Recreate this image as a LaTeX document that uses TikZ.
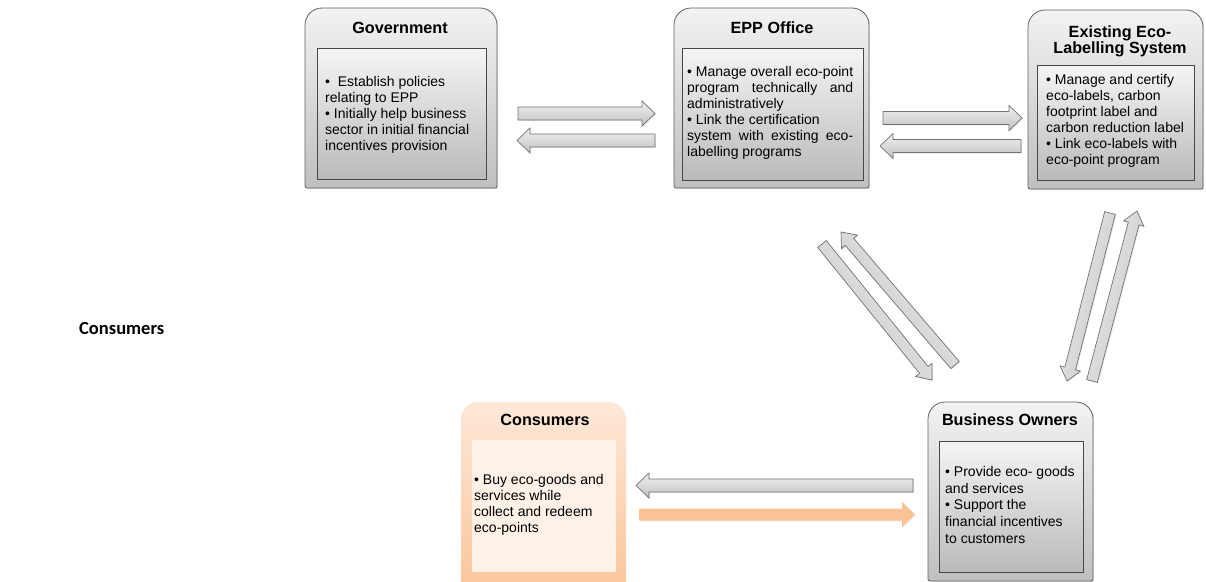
\documentclass[tikz,border=0pt]{standalone}
\usepackage{fontspec}
\setmainfont{Liberation Sans}
\newfontfamily\labelfont{Carlito}
\usetikzlibrary{calc,shadows}

\definecolor{peach}{RGB}{250,192,144}
\definecolor{peachpale}{RGB}{253,232,216}
\definecolor{peachpanel}{RGB}{253,241,232}

% frame with rounded top corners around a named node
\newcommand\topframe[2]{%
  \path[#1] (#2.south west) [rounded corners=17pt] -- (#2.north west)
    -- (#2.north east) [rounded corners=2pt] -- (#2.south east) -- cycle;}

% block arrow: style, from, to, half shaft width, half head width
\newcommand\blockarrow[5]{%
  \coordinate (hb) at ($(#3)!13pt!(#2)$);
  \path[#1] ($(#2)!#4!90:(#3)$) -- ($(hb)!#4!-90:(#2)$) -- ($(hb)!#5!-90:(#2)$)
    -- (#3) -- ($(hb)!#5!90:(#2)$) -- ($(hb)!#4!90:(#2)$)
    -- ($(#2)!#4!-90:(#3)$) -- cycle;}

\begin{document}
\begin{tikzpicture}[x=1pt,y=-1pt,
  area/.style={inner sep=0pt, outer sep=0pt, anchor=north west},
  frame/.style={draw=black!62, line width=0.8pt, top color=black!5, bottom color=black!25,
    drop shadow={shadow xshift=1.2pt, shadow yshift=-1.2pt, opacity=0.22}},
  panel/.style={area, draw=black!72, line width=1pt, top color=black!4, bottom color=black!27,
    drop shadow={shadow xshift=1.2pt, shadow yshift=-1.2pt, opacity=0.3}},
  peachframe/.style={top color=peachpale, bottom color=peach!90},
  peachbox/.style={area, fill=peachpanel},
  heading/.style={font=\fontsize{16.2}{17.5}\selectfont\bfseries, inner sep=0pt, anchor=base},
  body/.style={font=\fontsize{14}{16}\selectfont, inner sep=0pt, anchor=north west, align=left},
  garrow/.style={draw=black!55, line width=0.7pt, top color=black!6, bottom color=black!24,
    drop shadow={shadow xshift=1pt, shadow yshift=-1pt, opacity=0.18}},
  oarrow/.style={fill=peach!95,
    drop shadow={shadow xshift=1pt, shadow yshift=-1pt, opacity=0.12}}
]
\useasboundingbox (0,0) rectangle (1206,581);
\fill[white] (0,0) rectangle (1206,581);

% side label
\node[font=\labelfont\bfseries\fontsize{18.5}{21}\selectfont, anchor=base west, inner sep=0pt]
  (sidelabel) at (79,334) {Consumers};

% ---- Government
\node[area, minimum width=192pt, minimum height=180pt] (gov) at (305,8) {};
\topframe{frame}{gov}
\node[panel, minimum width=169pt, minimum height=131pt] (govpanel) at (317,48) {};
\node[heading] (govtitle) at (400,33) {Government};
\node[body] (govtext) at (325,76)
  {•\ \ Establish policies\\ relating to EPP\\ • Initially help business\\
   sector in initial financial\\ incentives provision};

% ---- EPP Office
\node[area, minimum width=195pt, minimum height=180pt] (epp) at (674,8) {};
\topframe{frame}{epp}
\node[panel, minimum width=181pt, minimum height=132pt] (epppanel) at (682,48) {};
\node[heading] (epptitle) at (772,33) {EPP Office};
\node[body] (epptext) at (687,66)
  {• Manage overall eco-point\\ \makebox[166pt][s]{program technically and}\\
   administratively\\ • Link the certification\\
   \makebox[166pt][s]{system with existing eco-}\\ labelling programs};

% ---- Existing Eco-Labelling System
\node[area, minimum width=175pt, minimum height=179pt] (eco) at (1028,10) {};
\topframe{frame}{eco}
\node[panel, minimum width=157pt, minimum height=115pt] (ecopanel) at (1037,65) {};
\node[heading, align=center, anchor=north, font=\fontsize{16.2}{16.5}\selectfont\bfseries]
  (ecotitle) at (1120,25.5) {Existing Eco-\\Labelling System};
\node[body] (ecotext) at (1046,74.5)
  {• Manage and certify\\ eco-labels, carbon\\ footprint label and\\
   carbon reduction label\\ • Link eco-labels with\\ eco-point program};

% ---- Consumers
\node[area, minimum width=165pt, minimum height=185pt] (cons) at (461,402) {};
\topframe{peachframe}{cons}
\node[peachbox, minimum width=144pt, minimum height=132pt] (conspanel) at (472,440) {};
\node[heading] (constitle) at (545,425) {Consumers};
\node[body] (constext) at (474,474.5)
  {• Buy eco-goods and\\ services while\\ collect and redeem\\ eco-points};

% ---- Business Owners
\node[area, minimum width=165pt, minimum height=179pt] (biz) at (928,402) {};
\topframe{frame}{biz}
\node[panel, minimum width=144pt, minimum height=131pt] (bizpanel) at (939,441) {};
\node[heading] (biztitle) at (1010,425) {Business Owners};
\node[body, font=\fontsize{14}{16.7}\selectfont] (biztext) at (945,466)
  {• Provide eco- goods\\ and services\\ • Support the\\ financial incentives\\ to customers};

% ---- arrow end points
\coordinate (g1) at (518,113.5);  \coordinate (e1) at (655,113.5);
\coordinate (e2) at (655,140.5);  \coordinate (g2) at (517,140.5);
\coordinate (e3) at (883,118);    \coordinate (l3) at (1022,118);
\coordinate (l4) at (1021,146);   \coordinate (e4) at (880,146);
\coordinate (e5) at (822,244);    \coordinate (b5) at (932,380);
\coordinate (b6) at (955,365);    \coordinate (e6) at (841,232);
\coordinate (l7) at (1110,213);   \coordinate (b7) at (1067,381);
\coordinate (b8) at (1092,381);   \coordinate (l8) at (1137,211);
\coordinate (b9) at (913,485.5);  \coordinate (c9) at (636,485.5);
\coordinate (c10) at (639,514.5); \coordinate (b10) at (915,514.5);

\blockarrow{garrow}{g1}{e1}{6.5pt}{12.5pt}
\blockarrow{garrow}{e2}{g2}{6.5pt}{12.5pt}
\blockarrow{garrow}{e3}{l3}{6.5pt}{12.5pt}
\blockarrow{garrow}{l4}{e4}{6.5pt}{12.5pt}
\blockarrow{garrow, shading angle=-51}{e5}{b5}{5.5pt}{10.5pt}
\blockarrow{garrow, shading angle=-51}{b6}{e6}{5.5pt}{10.5pt}
\blockarrow{garrow, shading angle=76}{l7}{b7}{5.5pt}{10.5pt}
\blockarrow{garrow, shading angle=76}{b8}{l8}{5.5pt}{10.5pt}
\blockarrow{garrow}{b9}{c9}{6.5pt}{12.5pt}
\blockarrow{oarrow}{c10}{b10}{6pt}{12.5pt}
\end{tikzpicture}
\end{document}
